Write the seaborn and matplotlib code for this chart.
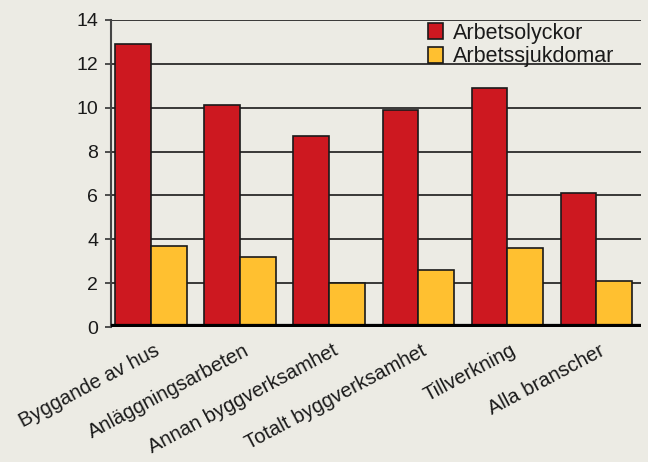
import matplotlib
matplotlib.use("Agg")
import matplotlib.pyplot as plt
import matplotlib.transforms as mtransforms
import seaborn as sns
import pandas as pd

categories = ["Byggande av hus", "Anläggningsarbeten", "Annan byggverksamhet",
              "Totalt byggverksamhet", "Tillverkning", "Alla branscher"]
arbetsolyckor = [12.9, 10.1, 8.7, 9.9, 10.9, 6.1]
arbetssjukdomar = [3.7, 3.2, 2.0, 2.6, 3.6, 2.1]
series_names = ["Arbetsolyckor", "Arbetssjukdomar"]
yticks = [0, 2, 4, 6, 8, 10, 12, 14]

df = pd.DataFrame({
    "kategori": categories * 2,
    "serie": [series_names[0]] * len(categories) + [series_names[1]] * len(categories),
    "varde": arbetsolyckor + arbetssjukdomar,
})

sns.set_theme(style="white")
plt.rcParams["font.family"] = ["Liberation Sans", "DejaVu Sans"]

bg = "#ECEBE4"
fig = plt.figure(figsize=(6.48, 4.62), dpi=100, facecolor=bg)
ax = fig.add_axes([0.171, 0.292, 0.818, 0.665])
ax.set_facecolor(bg)

sns.barplot(data=df, x="kategori", y="varde", hue="serie", ax=ax,
            palette=["#CD1820", "#FFC030"], width=0.8, saturation=1,
            edgecolor="#1a1a1a", linewidth=1.2, zorder=3)

ax.set_ylim(0, 14)
ax.set_xlim(-0.45, 5.5)
ax.set_yticks(yticks)
ax.set_yticklabels([str(v) for v in yticks], fontsize=14, color="#1a1a1a")
for v in yticks[1:]:
    ax.axhline(v, color="#1a1a1a", lw=1.2, zorder=1)
ax.axhline(0, color="black", lw=4.5, zorder=4, solid_capstyle="butt")

ax.set_xlabel("")
ax.set_ylabel("")
ax.set_xticks(range(len(categories)))
ax.set_xticklabels(categories, rotation=28, ha="right", rotation_mode="anchor",
                   fontsize=14.5, color="#1a1a1a")
ax.tick_params(axis="x", length=0, pad=10)
ax.tick_params(axis="y", length=4, width=1.2, color="#333333", pad=5, left=True)
offset = mtransforms.ScaledTranslation(3 / 100, 0, fig.dpi_scale_trans)
for lab in ax.get_xticklabels():
    lab.set_transform(lab.get_transform() + offset)

for s in ["top", "right", "bottom"]:
    ax.spines[s].set_visible(False)
ax.spines["left"].set_color("#444444")
ax.spines["left"].set_linewidth(1.5)

leg = ax.legend(loc="upper left", bbox_to_anchor=(0.570, 1.04), frameon=False,
                fontsize=15.5, handlelength=0.7, handleheight=0.74, handletextpad=0.47,
                labelspacing=0.12, borderpad=0.2)
for t in leg.get_texts():
    t.set_color("#1a1a1a")

fig.savefig("out.png", dpi=100, facecolor=bg)
